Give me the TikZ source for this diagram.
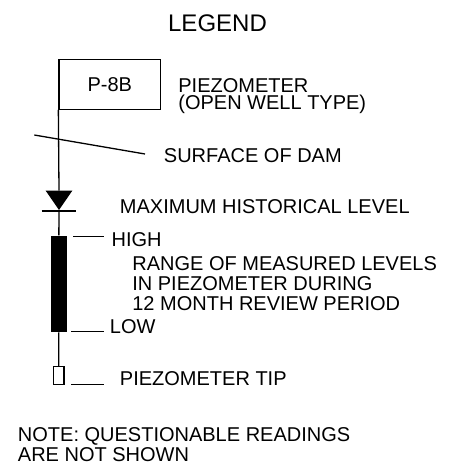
\documentclass[tikz,border=0pt]{standalone}
\usepackage{fontspec}
\setmainfont{Liberation Sans}
\usepackage{tikz}
\usetikzlibrary{positioning}

\tikzset{
	legtext/.style={anchor=north west, inner sep=0pt, align=left, font=\fontsize{20}{17}\selectfont},
	legtextwide/.style={legtext, font=\fontsize{20}{20}\selectfont},
	tick/.style={line width=1.3pt}
}

\begin{document}
\begin{tikzpicture}[x=1pt, y=-1pt, line width=1.3pt]
	
	\useasboundingbox (0,0) rectangle (458,466);
	
	% Title
	\node[inner sep=0pt, font=\fontsize{24}{24}\selectfont] (title) at (217.5,23.7) {LEGEND};
	
	% Piezometer box, stem runs down its left side
	\node[draw, minimum width=101.7pt, minimum height=50pt, inner sep=0pt, font=\fontsize{20}{20}\selectfont] (pbox) at (109.85,84.3) {P-8B\hspace{9.6pt}};
	\node[legtext] (ptext) at (177.7,78.3) {PIEZOMETER\\(OPEN WELL TYPE)};
	
	% Define points
	\coordinate (T1) at (45.7,190.7);   % triangle left
	\coordinate (T2) at (72.3,190.7);   % triangle right
	\coordinate (TA) at (59,210);       % triangle apex
	\coordinate (TT) at (59,190.7);     % triangle top middle
	\coordinate (HL) at (41.7,211);     % level bar left
	\coordinate (HR) at (76,211);       % level bar right
	\coordinate (HM) at (59,211);       % level bar middle
	
	% Surface of dam
	\coordinate (S1) at (34.3,135);
	\coordinate (S2) at (145,154);
	\draw (S1) -- (S2);
	\node[legtext] (surf) at (163.3,148.3) {SURFACE OF DAM};
	
	% Maximum level marker
	\draw (pbox.south west) -- (TT);
	\fill (T1) -- (T2) -- (TA) -- cycle;
	\draw (HL) -- (HR);
	\node[legtext] (maxlev) at (119.3,199.3) {MAXIMUM HISTORICAL LEVEL};
	
	% Range of measured levels
	\node[fill=black, minimum width=15.7pt, minimum height=95.7pt, inner sep=0pt] (range) at (58.85,283.85) {};
	\draw (HM) -- (range.north);
	\draw[tick] (73.3,236.7) -- (104,236.7);
	\node[legtext] (high) at (111,232.3) {HIGH};
	\node[legtextwide] (rtext) at (131.7,256) {RANGE OF MEASURED LEVELS\\IN PIEZOMETER DURING\\12 MONTH REVIEW PERIOD};
	\draw[tick] (71,331.7) -- (104.3,331.7);
	\node[legtext] (low) at (109.3,319.3) {LOW};
	
	% Tip
	\node[draw, minimum width=10.7pt, minimum height=17.6pt, inner sep=0pt] (tip) at (58.65,375.5) {};
	\draw (range.south) -- (tip.north);
	\draw[tick] (71,384.3) -- (104,384.3);
	\node[legtext] (tiptext) at (119.3,370.7) {PIEZOMETER TIP};
	
	% Note
	\node[legtextwide] (note) at (17.3,426.7) {NOTE: QUESTIONABLE READINGS\\ARE NOT SHOWN};
	
\end{tikzpicture}
\end{document}
